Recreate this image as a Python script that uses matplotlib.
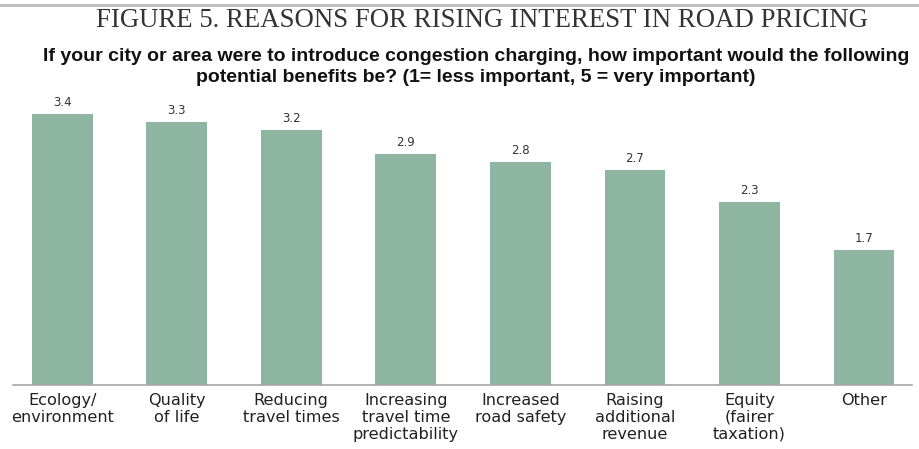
import matplotlib
matplotlib.use("Agg")
import matplotlib.pyplot as plt
from matplotlib.lines import Line2D

categories = ["Ecology/\nenvironment", "Quality\nof life", "Reducing\ntravel times",
              "Increasing\ntravel time\npredictability", "Increased\nroad safety",
              "Raising\nadditional\nrevenue", "Equity\n(fairer\ntaxation)", "Other"]
values = [3.4, 3.3, 3.2, 2.9, 2.8, 2.7, 2.3, 1.7]

title = "FIGURE 5. REASONS FOR RISING INTEREST IN ROAD PRICING"
subtitle = ("If your city or area were to introduce congestion charging, how important would the following\n"
            "potential benefits be? (1= less important, 5 = very important)")

W, H = 919, 449
fig = plt.figure(figsize=(W / 100, H / 100), dpi=100)
ax = fig.add_axes([13 / W, (H - 385) / H, (912 - 13) / W, (385 - 100) / H])

x = list(range(len(values)))
bars = ax.bar(x, values, width=0.53, color="#8db5a2")
for xi, v in zip(x, values):
    ax.annotate(f"{v:.1f}", (xi, v), xytext=(0, 3.5), textcoords="offset points",
                ha="center", va="bottom", fontsize=8.5, color="#333333")

ax.set_xlim(-0.43, 7.42)
ax.set_ylim(0, 3.58)
for s in ["top", "right", "left"]:
    ax.spines[s].set_visible(False)
ax.spines["bottom"].set_color("#a6a6a6")
ax.spines["bottom"].set_linewidth(1.2)
ax.set_yticks([])
ax.set_xticks(x)
ax.set_xticklabels(categories, fontsize=11.6, color="#222222", linespacing=1.17,
                   va="top")
ax.tick_params(axis="x", length=0, pad=5.5)

fig.add_artist(Line2D([0, 1], [1 - 5 / H, 1 - 5 / H], color="#bdbdbd", lw=2))
fig.text(482 / W, 1 - 20.5 / H, title, ha="center", va="center",
         family="Liberation Serif", fontsize=19.3, color="#333333")
fig.text(476 / W, 1 - 67 / H, subtitle, ha="center", va="center",
         family="Liberation Sans", fontweight="bold", fontsize=14, color="#111111",
         linespacing=1.3)

fig.savefig("out.png", dpi=100)
